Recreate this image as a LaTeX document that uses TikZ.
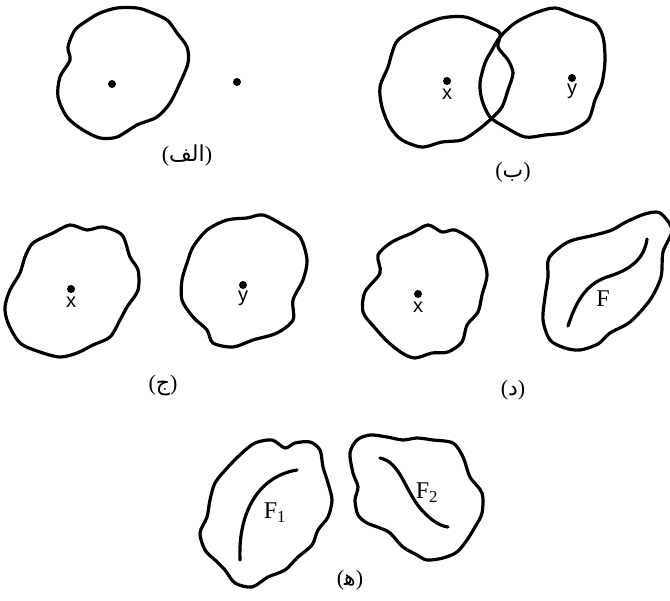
\documentclass[tikz,border=0pt]{standalone}
\usepackage{fontspec}
\setmainfont{Liberation Serif}
\setsansfont{Liberation Sans}
\newfontfamily\arabicfont[Script=Arabic]{DejaVu Sans}
\TeXXeTstate=1
\usetikzlibrary{positioning}

\begin{document}
\begin{tikzpicture}[x=1pt,y=-1pt,
  rim/.style={line width=3.2pt,line join=round,line cap=round},
  pt/.style={circle,fill,inner sep=0pt,minimum size=8pt},
  var/.style={font=\sffamily\fontsize{20}{22}\selectfont,inner sep=1pt},
  set/.style={font=\fontsize{24}{26}\selectfont,inner sep=1pt},
  caption/.style={font=\fontsize{22}{26}\selectfont}]
\useasboundingbox (0,0) rectangle (670,601);
% (a)
\draw[rim] plot[smooth cycle] coordinates {(100,13) (117,8) (137,8) (150,12) (167,20)
  (177,33) (187,47) (188,63) (180,83) (170,103) (157,117) (137,125) (117,137) (100,138)
  (83,130) (67,117) (58,97) (60,77) (70,60) (68,47) (75,30) (88,20)};
% (b)
\draw[rim] plot[smooth cycle] coordinates {(398,40) (418,27) (442,18) (465,17) (485,25)
  (500,33) (498,47) (508,60) (513,73) (508,90) (502,107) (492,118) (478,130) (462,140)
  (442,142) (422,147) (402,140) (390,127) (382,107) (380,87) (388,67) (392,53)};
\draw[rim] plot[smooth cycle] coordinates {(500,37) (515,23) (535,13) (555,8) (575,15)
  (595,23) (603,37) (605,60) (602,83) (595,100) (588,120) (568,132) (545,135) (525,137)
  (505,127) (490,117) (482,100) (480,83) (485,63) (492,50)};
% (c)
\draw[rim] plot[smooth cycle] coordinates {(33,243) (53,233) (70,225) (87,230) (103,227)
  (122,235) (130,257) (138,270) (138,290) (127,307) (120,320) (110,337) (93,345) (77,353)
  (60,357) (40,352) (20,343) (8,323) (5,307) (10,290) (20,273) (25,257)};
\draw[rim] plot[smooth cycle] coordinates {(193,247) (207,230) (227,220) (247,218)
  (263,215) (283,225) (300,237) (307,260) (303,280) (293,300) (293,320) (277,333)
  (253,340) (233,347) (213,343) (207,330) (193,317) (182,300) (182,280) (187,263)};
% (d)
\draw[rim] plot[smooth cycle] coordinates {(412,233) (428,225) (442,232) (455,230)
  (472,240) (482,255) (487,275) (482,295) (478,312) (467,325) (462,342) (448,352)
  (432,353) (415,358) (402,353) (388,342) (375,328) (363,312) (365,292) (380,273)
  (378,255) (392,242)};
\draw[rim] plot[smooth cycle] coordinates {(548,277) (549,258) (568,242) (595,235)
  (612,230) (626,222) (645,214) (660,213) (672,230) (663,252) (661,277) (650,300)
  (630,322) (610,333) (598,344) (580,350) (565,348) (550,340) (543,320) (545,297)};
% (e)
\draw[rim] plot[smooth cycle] coordinates {(255,443) (272,440) (285,448) (295,443)
  (310,442) (320,450) (323,467) (328,483) (332,500) (328,517) (318,530) (312,545)
  (298,557) (285,570) (268,577) (252,587) (235,583) (225,570) (215,560) (205,550)
  (200,533) (207,517) (210,500) (215,483) (228,467) (242,453)};
\draw[rim] plot[smooth cycle] coordinates {(350,453) (357,440) (370,435) (387,437)
  (403,440) (417,438) (433,440) (453,443) (463,457) (470,477) (482,493) (482,513)
  (475,527) (467,540) (457,552) (443,558) (427,560) (417,555) (403,547) (390,533)
  (380,528) (367,523) (358,515) (355,500) (358,487) (353,473)};
% points
\node[pt] (pa) at (112,84) {};
\node[pt] (qa) at (237,82) {};
\node[pt] (xb) at (447,81) {};
\node[pt] (yb) at (572,78) {};
\node[pt] (xc) at (71,289) {};
\node[pt] (yc) at (243,285) {};
\node[pt] (xd) at (418,294) {};
\node[var,below=3pt of xb] (lxb) {x};
\node[var,below=1pt of yb] (lyb) {y};
\node[var,below=3pt of xc] (lxc) {x};
\node[var,below=1pt of yc] (lyc) {y};
\node[var,below=3pt of xd] (lxd) {x};
% closed sets
\draw[rim] (568,326) .. controls (578,295) and (590,282) .. (610,276)
  .. controls (635,268) and (645,255) .. (647,239);
\draw[rim] (240,560) .. controls (238,510) and (260,476) .. (297,470);
\draw[rim] (380,458) .. controls (400,462) and (405,490) .. (420,508)
  .. controls (430,520) and (440,526) .. (448,527);
\node[set] (f) at (603,299) {F};
\node[set] (fa) at (275,513) {F\textsubscript{1}};
\node[set] (fb) at (427,493) {F\textsubscript{2}};
% captions
\node[caption] (ca) at (187,155) {({\arabicfont\beginR الف\endR})};
\node[caption] (cb) at (513,172) {({\arabicfont\beginR ب\endR})};
\node[caption] (cc) at (163,386) {({\arabicfont\beginR ج\endR})};
\node[caption] (cd) at (513,390) {({\arabicfont\beginR د\endR})};
\node[caption] (ce) at (350,580) {({\arabicfont\beginR ه‍\endR})};
\end{tikzpicture}
\end{document}
